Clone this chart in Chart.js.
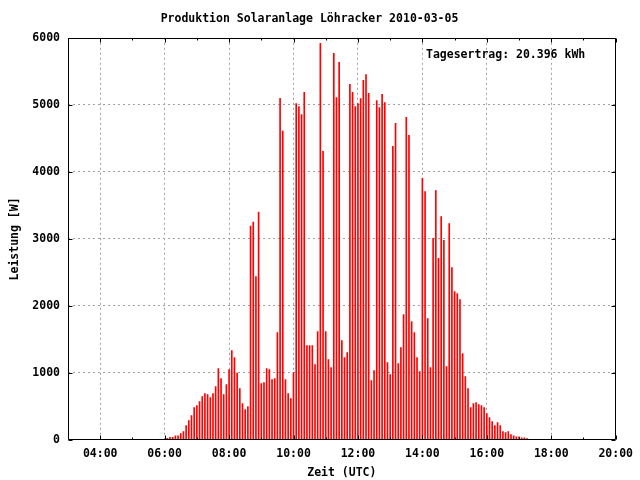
<!DOCTYPE html>
<html>
<head>
<meta charset="utf-8">
<script src="https://cdn.jsdelivr.net/npm/chart.js@4.4.1/dist/chart.umd.min.js"></script>
<style>
  html, body { margin:0; padding:0; background:#fff; }
  #wrap { width:640px; height:480px; }
</style>
</head>
<body>
<div id="wrap"><canvas id="solarChart" width="640" height="480"></canvas></div>
<script>
// 5-min samples (UTC)
const times = [
  "06:05","06:10","06:15","06:20","06:25","06:30","06:35","06:40","06:45","06:50","06:55",
  "07:00","07:05","07:10","07:15","07:20","07:25","07:30","07:35","07:40","07:45","07:50","07:55",
  "08:00","08:05","08:10","08:15","08:20","08:25","08:30","08:35","08:40","08:45","08:50","08:55",
  "09:00","09:05","09:10","09:15","09:20","09:25","09:30","09:35","09:40","09:45","09:50","09:55",
  "10:00","10:05","10:10","10:15","10:20","10:25","10:30","10:35","10:40","10:45","10:50","10:55",
  "11:00","11:05","11:10","11:15","11:20","11:25","11:30","11:35","11:40","11:45","11:50","11:55",
  "12:00","12:05","12:10","12:15","12:20","12:25","12:30","12:35","12:40","12:45","12:50","12:55",
  "13:00","13:05","13:10","13:15","13:20","13:25","13:30","13:35","13:40","13:45","13:50","13:55",
  "14:00","14:05","14:10","14:15","14:20","14:25","14:30","14:35","14:40","14:45","14:50","14:55",
  "15:00","15:05","15:10","15:15","15:20","15:25","15:30","15:35","15:40","15:45","15:50","15:55",
  "16:00","16:05","16:10","16:15","16:20","16:25","16:30","16:35","16:40","16:45","16:50","16:55",
  "17:00","17:05","17:10","17:15"
]
const power = [
  24,40,40,64,64,94,124,214,289,364,483,
  513,573,647,692,677,632,692,797,1066,916,677,826,
  1050,1333,1229,1000,766,542,452,497,3190,3250,2438,3399,
  841,856,1065,1050,900,916,1602,5096,4608,900,692,617,
  1005,5020,4975,4856,5185,1409,1409,1409,1126,1617,5917,4305,
  1617,1201,1082,5767,5110,5633,1483,1230,1305,5306,5185,4975,
  5020,5095,5364,5453,5170,886,1035,5065,4960,5155,5035,1155,
  975,4380,4723,1140,1380,1870,4813,4544,1767,1602,1230,1020,
  3902,3707,1811,1080,3007,3722,2710,3334,2977,1095,3230,2573,
  2215,2185,2095,1290,945,766,483,542,557,527,512,483,
  393,334,274,214,259,214,124,109,124,79,64,49,
  49,34,34,20
]
const xTickLabels = ["04:00","06:00","08:00","10:00","12:00","14:00","16:00","18:00","20:00"]
const yTicks = [0,1000,2000,3000,4000,5000,6000]
const title = "Produktion Solaranlage Löhracker 2010-03-05"
const yieldText = "Tagesertrag: 20.396 kWh"

function toMin(t){
  const p = t.split(":")
  return Number(p[0]) * 60 + Number(p[1])
}
function toLabel(m){
  const h = Math.floor(m / 60)
  return (h < 10 ? "0" : "") + h + ":00"
}

const points = []
times.forEach(function(t, i){
  points.push({x: toMin(t), y: power[i]})
})

const FONT = {family: "'DejaVu Sans Mono', 'Liberation Mono', monospace", size: 11.5, weight: "bold"}

// gnuplot style frame with inward ticks + yield label
const framePlugin = {
  id: "frame",
  afterDraw(chart){
    const ctx = chart.ctx
    const a = chart.chartArea
    const xs = chart.scales.x
    const ys = chart.scales.y
    const L = Math.round(a.left) + 0.5, R = Math.round(a.right) - 0.5
    const T = Math.round(a.top) + 0.5, B = Math.round(a.bottom) - 0.5
    ctx.save()
    ctx.strokeStyle = "#000"
    ctx.lineWidth = 1
    ctx.beginPath()
    ctx.rect(L, T, R - L, B - T)
    // x ticks (major every 2h, minor every hour)
    for(let m = 180; m <= 1200; m += 60){
      const px = Math.round(xs.getPixelForValue(m)) + 0.5
      const len = (m % 120 === 0) ? 4 : 2
      ctx.moveTo(px, B); ctx.lineTo(px, B - len)
      ctx.moveTo(px, T); ctx.lineTo(px, T + len)
    }
    yTicks.forEach(function(v){
      const py = Math.round(ys.getPixelForValue(v)) + 0.5
      ctx.moveTo(L, py); ctx.lineTo(L + 4, py)
      ctx.moveTo(R, py); ctx.lineTo(R - 4, py)
    })
    ctx.stroke()
    ctx.fillStyle = "#000"
    ctx.font = "bold 11.5px 'DejaVu Sans Mono', monospace"
    ctx.textAlign = "left"
    ctx.textBaseline = "middle"
    ctx.fillText(yieldText, 426, 55)
    ctx.restore()
  }
}

new Chart(document.getElementById("solarChart"), {
  type: "bar",
  data: {
    datasets: [{
      label: "Leistung",
      data: points,
      backgroundColor: "#ff0000",
      borderWidth: 0,
      barThickness: 1
    }]
  },
  options: {
    responsive: false,
    animation: false,
    layout: {padding: {left: 0, right: 21, top: 0, bottom: 0}},
    plugins: {
      legend: {display: false},
      tooltip: {enabled: false},
      title: {
        display: true,
        text: title,
        color: "#000",
        font: FONT,
        padding: {top: 12, bottom: 12}
      }
    },
    scales: {
      x: {
        type: "linear",
        min: 180,
        max: 1200,
        offset: false,
        grid: {
          offset: false,
          drawTicks: false,
          color: function(c){
            const v = c.tick.value
            return (v % 120 === 0 && v > 180 && v < 1200) ? "#a0a0a0" : "rgba(0,0,0,0)"
          }
        },
        border: {display: false, dash: [2, 3]},
        ticks: {
          stepSize: 60,
          padding: 7,
          color: "#000",
          font: FONT,
          maxRotation: 0,
          autoSkip: false,
          callback: function(v){
            const lab = toLabel(v)
            return xTickLabels.indexOf(lab) >= 0 ? lab : ""
          }
        },
        title: {display: true, text: "Zeit (UTC)", color: "#000", font: FONT, padding: {top: 0, bottom: 0}},
        afterFit: function(s){ s.height = 40 }
      },
      y: {
        min: 0,
        max: 6000,
        grid: {
          drawTicks: false,
          color: function(c){
            const v = c.tick.value
            return (v > 0 && v < 6000) ? "#a0a0a0" : "rgba(0,0,0,0)"
          }
        },
        border: {display: false, dash: [2, 3]},
        ticks: {
          stepSize: 1000,
          padding: 8,
          color: "#000",
          font: FONT,
          callback: function(v){ return yTicks.indexOf(v) >= 0 ? String(v) : "" }
        },
        title: {display: true, text: "Leistung [W]", color: "#000", font: FONT, padding: {top: 8, bottom: 0}},
        afterFit: function(s){ s.width = 68 }
      }
    }
  },
  plugins: [framePlugin]
})
</script>
</body>
</html>
